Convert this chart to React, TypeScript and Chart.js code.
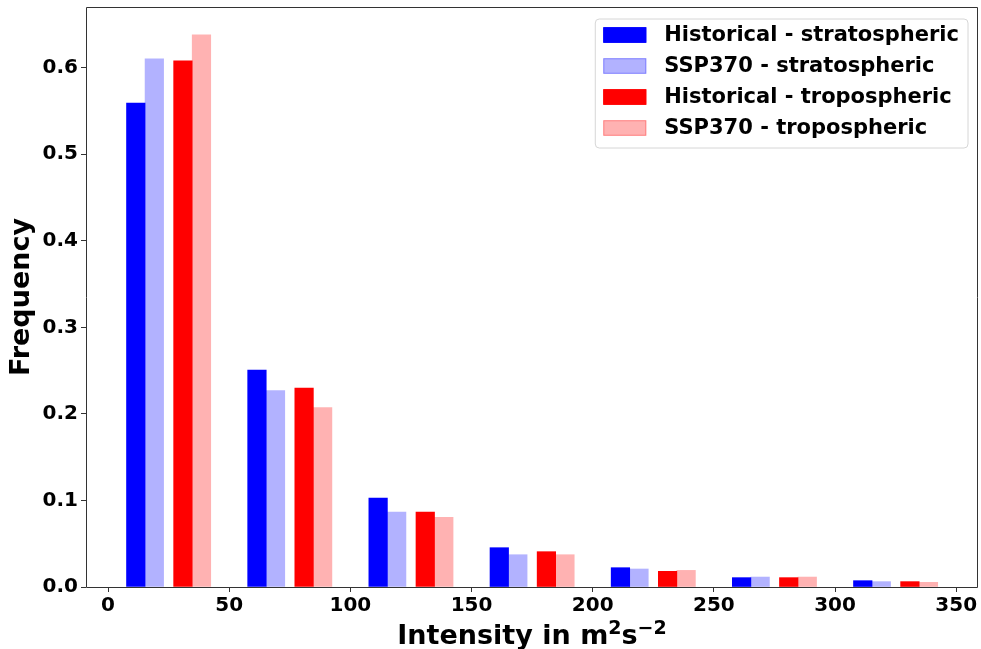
import React, { useEffect, useRef } from 'react';
import { Chart, registerables } from 'chart.js';

Chart.register(...registerables);

const seriesLabels = [
  'Historical - stratospheric',
  'SSP370 - stratospheric',
  'Historical - tropospheric',
  'SSP370 - tropospheric',
];

// bar centres (intensity, m^2 s^-2)
const histStratX = [11.45, 61.45, 111.45, 161.45, 211.45, 261.45, 311.45];
const sspStratX = [19.1, 69.1, 119.1, 169.1, 219.1, 269.1, 319.1];
const histTropX = [30.9, 80.9, 130.9, 180.9, 230.9, 280.9, 330.9];
const sspTropX = [38.55, 88.55, 138.55, 188.55, 238.55, 288.55, 338.55];

// frequencies
const histStrat = [0.559, 0.2506, 0.1028, 0.0454, 0.0223, 0.0108, 0.0073];
const sspStrat = [0.61, 0.227, 0.0866, 0.0373, 0.0208, 0.0115, 0.0062];
const histTrop = [0.6077, 0.2298, 0.0866, 0.0408, 0.0181, 0.0108, 0.0062];
const sspTrop = [0.6378, 0.2074, 0.0804, 0.0373, 0.0192, 0.0115, 0.0054];

const xTicks = [0, 50, 100, 150, 200, 250, 300, 350];
const yTicks = [0, 0.1, 0.2, 0.3, 0.4, 0.5, 0.6];

// x-axis title pieces: [text, isSuperscript]
const xTitleParts: [string, boolean][] = [
  ['Intensity in m', false],
  ['2', true],
  ['s', false],
  ['−2', true],
];

const colors = ['#0000ff', 'rgba(0,0,255,0.3)', '#ff0000', 'rgba(255,0,0,0.3)'];

const FONT = '"DejaVu Sans", "Liberation Sans", sans-serif';

const framePlugin = {
  id: 'framePlugin',
  afterDraw(chart: any) {
    const { ctx, chartArea: a } = chart;
    ctx.save();
    // spines
    ctx.strokeStyle = '#333';
    ctx.lineWidth = 1;
    const l = Math.round(a.left) + 0.5;
    const t = Math.round(a.top) + 0.5;
    const r = Math.round(a.right) - 0.5;
    const b = Math.round(a.bottom) + 0.5;
    ctx.beginPath();
    ctx.moveTo(l, t);
    ctx.lineTo(r, t);
    ctx.lineTo(r, b);
    ctx.lineTo(l, b);
    ctx.closePath();
    ctx.stroke();

    // x-axis title with superscripts
    const baseFont = `bold 27px ${FONT}`;
    const supFont = `bold 19px ${FONT}`;
    let total = 0;
    const widths = xTitleParts.map(([txt, sup]) => {
      ctx.font = sup ? supFont : baseFont;
      const w = ctx.measureText(txt).width;
      total += w;
      return w;
    });
    let tx = (a.left + a.right) / 2 - total / 2;
    const baseY = chart.height - 5;
    ctx.fillStyle = '#000';
    ctx.textAlign = 'left';
    ctx.textBaseline = 'alphabetic';
    xTitleParts.forEach(([txt, sup], i) => {
      ctx.font = sup ? supFont : baseFont;
      ctx.fillText(txt, tx, sup ? baseY - 10 : baseY);
      tx += widths[i];
    });

    // legend
    const datasets = chart.data.datasets;
    ctx.font = `bold 21px ${FONT}`;
    let maxW = 0;
    datasets.forEach((d: any) => {
      maxW = Math.max(maxW, ctx.measureText(d.label).width);
    });
    const padL = 8, swW = 43, swH = 15.5, gap = 18, padR = 9;
    const rowH = 31;
    const boxW = padL + swW + gap + maxW + padR;
    const boxH = 16 + rowH * (datasets.length - 1) + 20;
    const boxR = a.right - 10;
    const boxL = boxR - boxW;
    const boxT = a.top + 12;
    const rad = 4;
    ctx.beginPath();
    ctx.moveTo(boxL + rad, boxT);
    ctx.lineTo(boxL + boxW - rad, boxT);
    ctx.arcTo(boxL + boxW, boxT, boxL + boxW, boxT + rad, rad);
    ctx.lineTo(boxL + boxW, boxT + boxH - rad);
    ctx.arcTo(boxL + boxW, boxT + boxH, boxL + boxW - rad, boxT + boxH, rad);
    ctx.lineTo(boxL + rad, boxT + boxH);
    ctx.arcTo(boxL, boxT + boxH, boxL, boxT + boxH - rad, rad);
    ctx.lineTo(boxL, boxT + rad);
    ctx.arcTo(boxL, boxT, boxL + rad, boxT, rad);
    ctx.closePath();
    ctx.fillStyle = 'rgba(255,255,255,0.8)';
    ctx.fill();
    ctx.strokeStyle = '#d6d6d6';
    ctx.lineWidth = 1;
    ctx.stroke();

    datasets.forEach((d: any, i: number) => {
      const cy = boxT + 16 + i * rowH;
      const sx = boxL + padL;
      ctx.fillStyle = d.backgroundColor;
      ctx.fillRect(sx, cy - swH / 2, swW, swH);
      ctx.strokeStyle = d.backgroundColor;
      ctx.lineWidth = 1;
      ctx.strokeRect(sx + 0.5, cy - swH / 2 + 0.5, swW - 1, swH - 1);
      ctx.fillStyle = '#000';
      ctx.textAlign = 'left';
      ctx.textBaseline = 'middle';
      ctx.font = `bold 21px ${FONT}`;
      ctx.fillText(d.label, sx + swW + gap, cy + 0.5);
    });
    ctx.restore();
  },
};

export default function App() {
  const ref = useRef<HTMLCanvasElement>(null);

  useEffect(() => {
    document.body.style.margin = '0';
    const xs = [histStratX, sspStratX, histTropX, sspTropX];
    const ys = [histStrat, sspStrat, histTrop, sspTrop];
    const datasets = seriesLabels.map((label, k) => ({
      label,
      data: xs[k].map((x, i) => ({ x, y: ys[k][i] })),
      backgroundColor: colors[k],
      borderWidth: 0,
      grouped: false,
      barPercentage: 1,
      categoryPercentage: 1,
    }));

    const chart = new Chart(ref.current as HTMLCanvasElement, {
      type: 'bar',
      data: { datasets },
      options: {
        responsive: false,
        animation: false,
        devicePixelRatio: 1,
        layout: { padding: { left: 0, top: 7, right: 3, bottom: 0 } },
        plugins: {
          legend: { display: false },
          tooltip: { enabled: false },
        },
        scales: {
          x: {
            type: 'linear',
            min: -9.1,
            max: 359,
            offset: false,
            afterBuildTicks: (scale: any) => {
              scale.ticks = xTicks.map((v) => ({ value: v }));
            },
            afterFit: (scale: any) => {
              scale.height = 62;
              scale.paddingLeft = 0;
              scale.paddingRight = 0;
            },
            grid: {
              display: true,
              offset: false,
              drawOnChartArea: false,
              drawTicks: true,
              tickLength: 5,
              color: '#333',
              tickColor: '#333',
            },
            border: { display: false },
            ticks: {
              autoSkip: false,
              maxRotation: 0,
              padding: 2,
              color: '#000',
              font: { family: FONT, weight: 'bold', size: 20 },
              callback: (v: any) => String(v),
            },
            title: { display: false },
          },
          y: {
            type: 'linear',
            min: 0,
            max: 0.67,
            afterBuildTicks: (scale: any) => {
              scale.ticks = yTicks.map((v) => ({ value: v }));
            },
            afterFit: (scale: any) => {
              scale.width = 86;
              scale.paddingTop = 0;
              scale.paddingBottom = 0;
            },
            grid: {
              display: true,
              offset: false,
              drawOnChartArea: false,
              drawTicks: true,
              tickLength: 5,
              color: '#333',
              tickColor: '#333',
            },
            border: { display: false },
            ticks: {
              autoSkip: false,
              padding: 3,
              color: '#000',
              font: { family: FONT, weight: 'bold', size: 20 },
              callback: (v: any) => Number(v).toFixed(1),
            },
            title: {
              display: true,
              text: 'Frequency',
              color: '#000',
              font: { family: FONT, weight: 'bold', size: 27, lineHeight: 1 },
              padding: { top: 8.5, bottom: 0 },
            },
          },
        },
      },
      plugins: [framePlugin],
    } as any);

    return () => chart.destroy();
  }, []);

  return (
    <div style={{ width: 981, height: 649 }}>
      <canvas ref={ref} width={981} height={649} style={{ display: 'block' }} />
    </div>
  );
}
